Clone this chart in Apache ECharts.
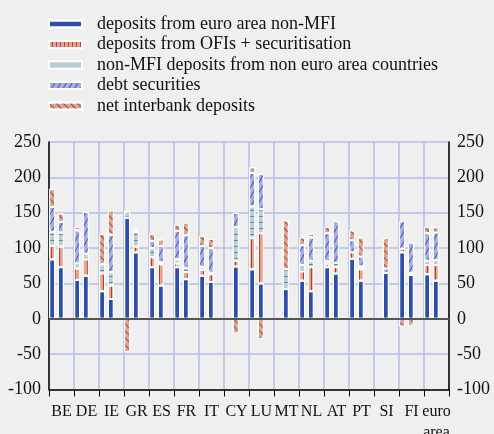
<!DOCTYPE html>
<html>
<head>
<meta charset="utf-8">
<script src="https://cdn.jsdelivr.net/npm/echarts@6/dist/echarts.min.js"></script>
<style>
  html, body { margin: 0; padding: 0; background: #efefef; }
  #chart { width: 494px; height: 434px; }
</style>
</head>
<body>
<div id="chart"></div>
<script>
const categories = ['BE', 'DE', 'IE', 'GR', 'ES', 'FR', 'IT', 'CY', 'LU', 'MT', 'NL', 'AT', 'PT', 'SI', 'FI', 'euro\narea']
const yTicks = [-100, -50, 0, 50, 100, 150, 200, 250]

// first bar of each country
const euroNonMfi1 = [84, 55, 39, 143, 73, 73, 61, null, 70, null, 54, 73, 85, null, 94, 63]
const ofiSec1 = [19, 16, 25, 0, 14, 5, 8, null, 44, null, 13, 4, 9, null, 5, 13]
const nonEa1 = [20, 7, 13, 9, 13, 6, 4, null, 45, null, 9, 4, 0, null, 0, 6]
const debtSec1 = [35, 47, 0, 0, 10, 40, 30, null, 47, null, 28, 40, 17, null, 39, 39]
const interbank1 = [26, 5, 43, -47, 10, 9, 14, null, 8, null, 11, 9, 14, null, -11, 9]

// second bar of each country
const euroNonMfi2 = [73, 61, 28, 94, 47, 56, 52, 74, 50, 42, 39, 64, 54, 65, 62, 54]
const ofiSec2 = [29, 23, 19, 8, 30, 10, 11, 8, 71, 0, 34, 9, 16, 0, 3, 22]
const nonEa2 = [20, 8, 19, 21, 3, 6, 2, 47, 34, 28, 9, 6, 4, 0, 0, 7]
const debtSec2 = [15, 59, 53, 3, 23, 46, 35, 21, 50, 0, 33, 59, 14, 6, 43, 39]
const interbank2 = [12, -2, 34, 0, 9, 18, 13, -21, -29, 69, 5, -1, 27, 43, -10, 8]

const FONT = 'Liberation Serif'
const gridColor = '#b6bce8'

const styles = [
  {
    name: 'deposits from euro area non-MFI', color: '#2e4fa8',
    decal: { symbol: 'rect', symbolSize: 1, dashArrayX: [1, 0], dashArrayY: [1, 4], color: 'rgba(0,0,0,0)' },
  },
  {
    name: 'deposits from OFIs + securitisation', color: '#dfa792',
    decal: { symbol: 'rect', symbolSize: 1, dashArrayX: [1, 0], dashArrayY: [1, 3], rotation: Math.PI / 2, color: '#c0392b' },
  },
  {
    name: 'non-MFI deposits from non euro area countries', color: '#b9ced4',
    decal: { symbol: 'rect', symbolSize: 1, dashArrayX: [1, 0], dashArrayY: [1, 5], rotation: 0, color: '#5b8d99' },
  },
  {
    name: 'debt securities', color: '#a8addf',
    decal: { symbol: 'rect', symbolSize: 1, dashArrayX: [1, 0], dashArrayY: [1, 4], rotation: -Math.PI / 3, color: '#4556bd' },
  },
  {
    name: 'net interbank deposits', color: '#dba591',
    decal: { symbol: 'rect', symbolSize: 1, dashArrayX: [1, 0], dashArrayY: [1, 4], rotation: Math.PI / 4, color: '#a5493a' },
  },
]

const set1 = [euroNonMfi1, ofiSec1, nonEa1, debtSec1, interbank1]
const set2 = [euroNonMfi2, ofiSec2, nonEa2, debtSec2, interbank2]

function makeBar(st, data, stack) {
  return {
    name: st.name,
    type: 'bar',
    stack: stack,
    xAxisIndex: 1,
    yAxisIndex: 2,
    barWidth: 6,
    barGap: '45%',
    data: data,
    itemStyle: { color: st.color, borderColor: '#ffffff', borderWidth: 1, decal: st.decal },
  }
}

const series = []
styles.forEach((st, i) => {
  series.push(makeBar(st, set1[i], 'p1'))
  series.push(makeBar(st, set2[i], 'p2'))
})
// zero line
series.push({
  type: 'line',
  xAxisIndex: 0,
  yAxisIndex: 0,
  data: [],
  markLine: {
    silent: true,
    symbol: ['none', 'none'],
    label: { show: false },
    lineStyle: { color: '#555555', width: 2, type: 'solid' },
    data: [{ yAxis: 0 }],
  },
})

const yCommon = {
  type: 'value',
  min: yTicks[0],
  max: yTicks[yTicks.length - 1],
  interval: 50,
}

const option = {
  backgroundColor: '#efefef',
  animation: false,
  aria: { enabled: true, decal: { show: true } },
  legend: {
    orient: 'vertical',
    left: 43,
    top: 10,
    itemWidth: 33,
    itemHeight: 7,
    itemGap: 2.5,
    icon: 'rect',
    data: styles.map(s => s.name),
    textStyle: { fontFamily: FONT, fontSize: 18, color: '#111', padding: [0, 0, 0, 10] },
  },
  grid: [
    { left: 49, right: 45, top: 142, bottom: 44.5, outerBoundsMode: 'none' },
    { left: 44, right: 50, top: 142, bottom: 44.5, outerBoundsMode: 'none' },
  ],
  xAxis: [
    {
      type: 'category',
      gridIndex: 0,
      data: categories,
      axisLine: { onZero: false, lineStyle: { color: '#000', width: 1.5 } },
      axisTick: { show: true, length: 7, lineStyle: { color: '#000' } },
      axisLabel: { fontFamily: FONT, fontSize: 16, color: '#111', margin: 12, lineHeight: 21, interval: 0 },
      splitLine: { show: true, lineStyle: { color: gridColor, width: 1.5 } },
    },
    {
      type: 'category',
      gridIndex: 1,
      data: categories,
      show: false,
    },
  ],
  yAxis: [
    Object.assign({}, yCommon, {
      gridIndex: 0,
      position: 'left',
      axisLine: { show: true, lineStyle: { color: '#000', width: 1.5 } },
      axisTick: { show: false },
      axisLabel: { fontFamily: FONT, fontSize: 18, color: '#111', margin: 8 },
      splitLine: { show: true, lineStyle: { color: gridColor, width: 1.5 } },
    }),
    Object.assign({}, yCommon, {
      gridIndex: 0,
      position: 'right',
      axisLine: { show: true, lineStyle: { color: '#000', width: 1.5 } },
      axisTick: { show: false },
      axisLabel: { fontFamily: FONT, fontSize: 18, color: '#111', margin: 8 },
      splitLine: { show: false },
    }),
    Object.assign({}, yCommon, {
      gridIndex: 1,
      show: false,
      splitLine: { show: false },
    }),
  ],
  series: series,
}

const myChart = echarts.init(document.getElementById('chart'))
myChart.setOption(option)
</script>
</body>
</html>
